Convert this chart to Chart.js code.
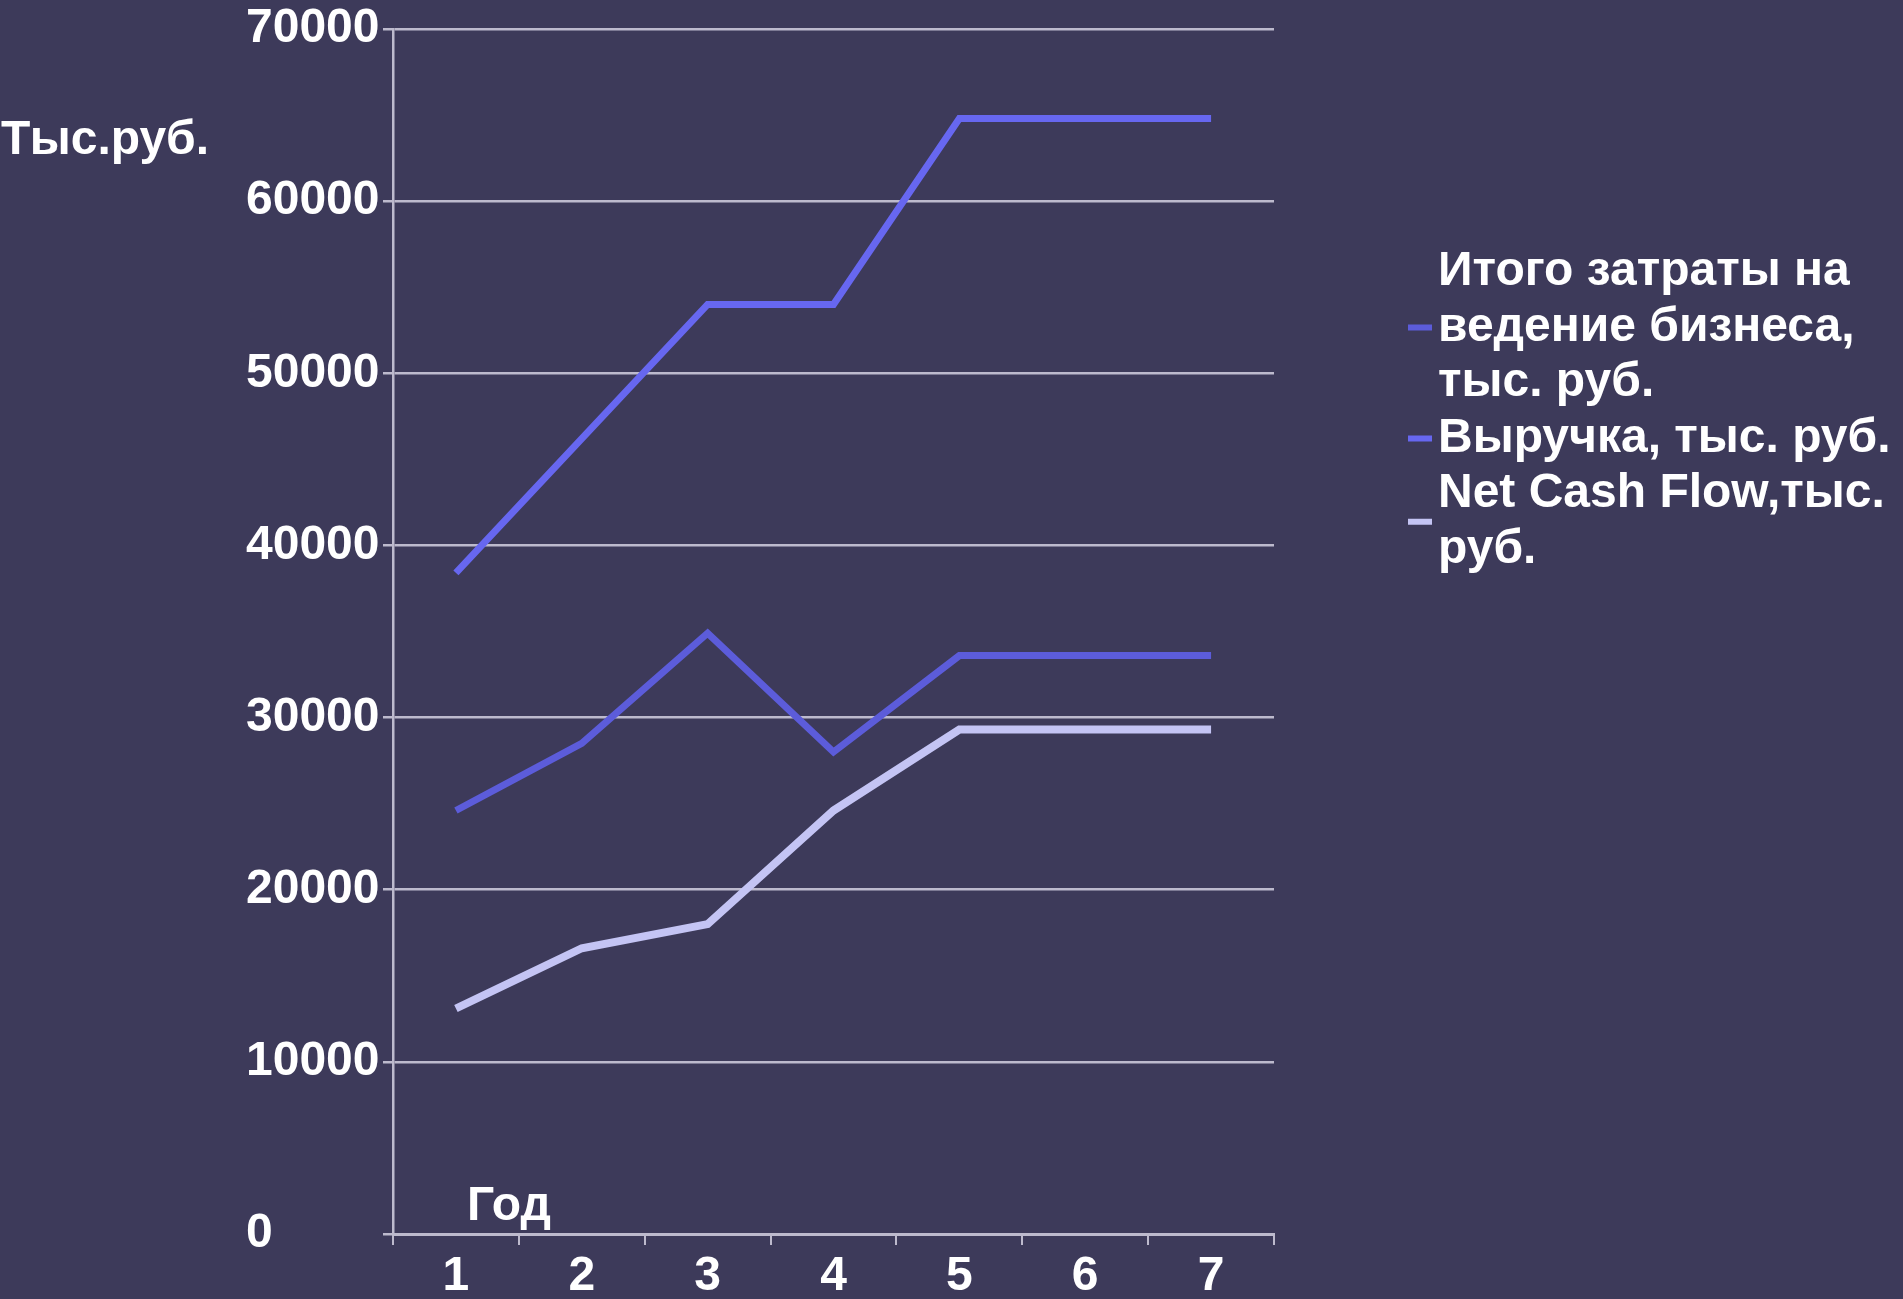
<!DOCTYPE html>
<html><head><meta charset="utf-8">
<script src="https://cdn.jsdelivr.net/npm/chart.js@4.4.1/dist/chart.umd.min.js"></script>
<style>
html,body{margin:0;padding:0;background:#3d3a5a;overflow:hidden}
#wrap{position:relative;width:1903px;height:1299px}
</style></head><body>
<div id="wrap"><canvas id="c" width="1903" height="1299"></canvas></div>
<script>
const years = ['1','2','3','4','5','6','7'];
const costs = [24600, 28500, 34900, 28000, 33600, 33600, 33600];
const revenue = [38400, 46200, 54000, 54000, 64800, 64800, 64800];
const netCashFlow = [13100, 16600, 18000, 24600, 29300, 29300, 29300];
const seriesNames = [
  ['Итого затраты на', 'ведение бизнеса,', 'тыс. руб.'],
  ['Выручка, тыс. руб.'],
  ['Net Cash Flow,тыс.', 'руб.']
];
const yTickValues = [0, 10000, 20000, 30000, 40000, 50000, 60000, 70000];
const yTitle = 'Тыс.руб.';
const xTitle = 'Год';

const FONT = '"Liberation Sans", Arial, sans-serif';
const GRID = '#bdbacd';
const colors = ['#5c5cda', '#6767f0', '#c4c4f4'];

const textPlugin = {
  id: 'texts',
  afterDraw(chart) {
    const ctx = chart.ctx;
    ctx.save();
    ctx.fillStyle = '#ffffff';
    ctx.font = 'bold 48px ' + FONT;
    ctx.textBaseline = 'middle';
    ctx.textAlign = 'left';
    ctx.fillText(yTitle, 1, 141);
    ctx.fillText(xTitle, 467, 1207);
    // legend
    const lineH = 55.5;
    let y = 272;
    const ds = chart.data.datasets;
    ds.forEach((d, i) => {
      const lines = seriesNames[i];
      const mid = y + (lines.length - 1) * lineH / 2;
      ctx.strokeStyle = d.borderColor;
      ctx.lineWidth = 6;
      ctx.beginPath();
      ctx.moveTo(1408, mid);
      ctx.lineTo(1432, mid);
      ctx.stroke();
      ctx.fillStyle = '#ffffff';
      lines.forEach((t, k) => ctx.fillText(t, 1438, y + k * lineH));
      y += lines.length * lineH;
    });
    ctx.restore();
  }
};

new Chart(document.getElementById('c'), {
  type: 'line',
  data: {
    labels: years,
    datasets: [
      { label: seriesNames[0].join(' '), data: costs, borderColor: colors[0], backgroundColor: colors[0], borderWidth: 7 },
      { label: seriesNames[1].join(' '), data: revenue, borderColor: colors[1], backgroundColor: colors[1], borderWidth: 7 },
      { label: seriesNames[2].join(' '), data: netCashFlow, borderColor: colors[2], backgroundColor: colors[2], borderWidth: 8 }
    ]
  },
  options: {
    responsive: false,
    animation: false,
    devicePixelRatio: 1,
    elements: { point: { radius: 0, hoverRadius: 0 }, line: { tension: 0, borderCapStyle: 'butt', borderJoinStyle: 'miter' } },
    layout: { padding: { left: 246, top: 25, right: 629, bottom: 0 } },
    plugins: { legend: { display: false }, tooltip: { enabled: false } },
    scales: {
      x: {
        offset: true,
        grid: { display: true, offset: true, drawOnChartArea: false, drawTicks: true, tickLength: 11, color: GRID, lineWidth: 2 },
        border: { display: true, color: GRID, width: 3 },
        ticks: { color: '#ffffff', font: { family: FONT, size: 48, weight: 'bold', lineHeight: 1.0 }, padding: 8, maxRotation: 0 },
        afterFit(scale) { scale.height = 65; }
      },
      y: {
        min: 0, max: 70000,
        afterBuildTicks(scale) { scale.ticks = yTickValues.map(v => ({ value: v })); },
        grid: { color: GRID, lineWidth: 2.5, tickLength: 10, drawTicks: true },
        border: { display: true, color: GRID, width: 2.5 },
        ticks: { color: '#ffffff', crossAlign: 'far', font: { family: FONT, size: 48, weight: 'bold', lineHeight: 1.0 }, padding: 5, callback: v => String(v) },
        afterFit(scale) { scale.width = 147; }
      }
    }
  },
  plugins: [textPlugin]
});
</script>
</body></html>
